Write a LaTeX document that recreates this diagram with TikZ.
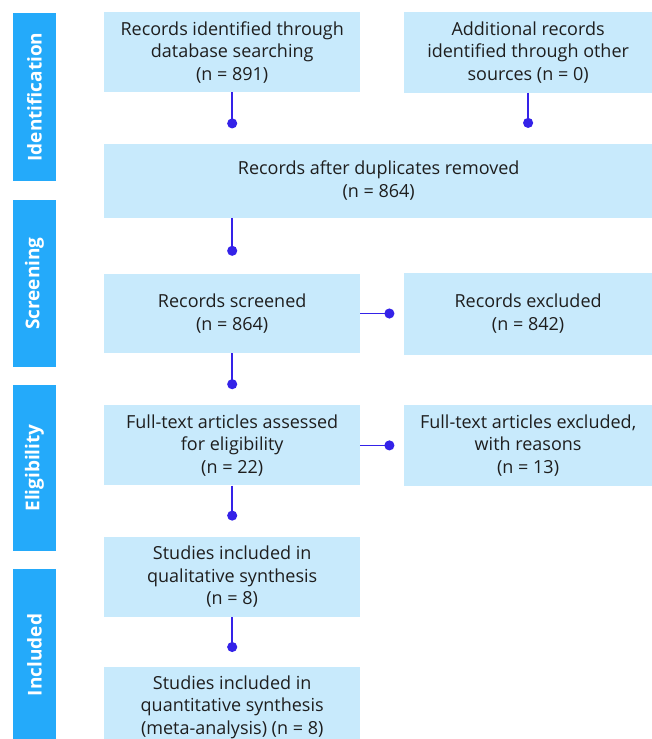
\documentclass[tikz,border=0pt]{standalone}
\usepackage{fontspec}
\setmainfont{Open Sans}
\usetikzlibrary{arrows.meta, positioning}
\definecolor{boxblue}{RGB}{200,234,252}
\definecolor{barblue}{RGB}{36,170,250}
\definecolor{linkblue}{RGB}{52,34,232}
\definecolor{textgray}{RGB}{30,30,30}

\begin{document}
\begin{tikzpicture}[
  box/.style={fill=boxblue, text=textgray, minimum height=80pt, minimum width=256pt, inner sep=0pt, align=center, font=\fontsize{18}{22.5}\selectfont},
  side/.style={fill=barblue, text=white, rotate=90, minimum height=43pt, inner sep=0pt, font=\fontsize{19}{23}\selectfont\bfseries},
  link/.style={-{Circle[length=10pt]}, line width=1.5pt, draw=linkblue},
  node distance=43pt
]
\useasboundingbox (0,0) rectangle (652pt,-739pt);

\node[box, anchor=north west] (ident) at (104pt,-12pt) {Records identified through\\database searching\\(n = 891)};
\node[box, right=of ident, minimum width=249pt, minimum height=81pt] (other) {Additional records\\identified through other\\sources (n = 0)};

\node[box, below=51pt of ident.south west, anchor=north west, minimum width=549pt, minimum height=74pt] (dup) {Records after duplicates removed\\(n = 864)};

\node[box, below=56pt of dup.south west, anchor=north west, minimum height=79pt] (screen) {Records screened\\(n = 864)};
\node[box, right=of screen, minimum width=249pt, minimum height=82pt] (excl) {Records excluded\\(n = 842)};

\node[box, below=52pt of screen] (full) {Full-text articles assessed\\for eligibility\\(n = 22)};
\node[box, right=of full, minimum width=249pt, minimum height=81pt] (fullexcl) {Full-text articles excluded,\\with reasons\\(n = 13)};

\node[box, below=51pt of full] (qual) {Studies included in\\qualitative synthesis\\(n = 8)};
\node[box, below=50pt of qual] (quant) {Studies included in\\quantitative synthesis\\(meta-analysis) (n = 8)};

% phase bars
\node[side, minimum width=168pt] (phaseI) at (34.5pt,-97pt) {Identification};
\node[side, minimum width=167pt] (phaseS) at (34.5pt,-283.5pt) {Screening};
\node[side, minimum width=166pt] (phaseE) at (34.5pt,-468pt) {Eligibility};
\node[side, minimum width=172pt] (phaseN) at (34.5pt,-655pt) {Included};

% connector ends
\coordinate[below=36pt of ident] (d1);
\coordinate[below=35pt of other] (d2);
\coordinate (d3) at ([yshift=-38pt]dup.south -| ident.south);
\coordinate[below=36pt of screen] (d4);
\coordinate[right=34pt of screen] (d5);
\coordinate[below=35pt of full] (d6);
\coordinate[right=34pt of full] (d7);
\coordinate[below=35pt of qual] (d8);

\draw[link] (ident) -- (d1);
\draw[link] (other) -- (d2);
\draw[link] (dup.south -| ident.south) -- (d3);
\draw[link] (screen) -- (d4);
\draw[link] (screen) -- (d5);
\draw[link] (full) -- (d6);
\draw[link] (full) -- (d7);
\draw[link] (qual) -- (d8);
\end{tikzpicture}
\end{document}
